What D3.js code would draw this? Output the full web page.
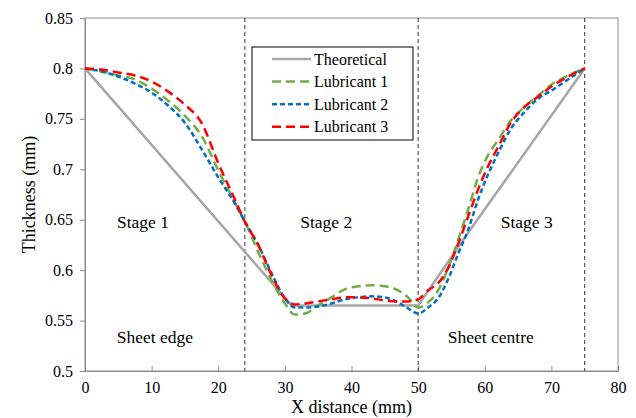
<!DOCTYPE html>
<html>
<head>
<meta charset="utf-8">
<script src="https://cdn.jsdelivr.net/npm/d3@7"></script>
<style>
  body { margin: 0; background: #fff; }
  svg text { font-family: "Liberation Serif", "Times New Roman", "DejaVu Serif", serif; fill: #000; }
</style>
</head>
<body>
<script>
const w = 636
const h = 418
const margin = { top: 18, right: 18, bottom: 47, left: 85 }
const serifFont = '"Liberation Serif", "Times New Roman", "DejaVu Serif", serif'

// data
const xTicks = [0, 10, 20, 30, 40, 50, 60, 70, 80]
const yTicks = [0.5, 0.55, 0.6, 0.65, 0.7, 0.75, 0.8, 0.85]
const stageLines = [24, 50, 75]

const theoX = [0, 31, 50, 57.5, 75]
const theoY = [0.8, 0.565, 0.565, 0.637, 0.8]

const lubX = [0, 2.5, 5, 7.5, 10, 12.5, 15, 17.5, 20, 22.5, 24, 26, 28, 30, 31.5, 33, 35, 37, 39, 41,
    43, 45, 47, 48.5, 50, 51.5, 53, 54.5, 56, 57.5, 59, 60.5, 62, 64, 66, 68, 70, 72.5, 75]
const lub1 = [0.800, 0.797, 0.793, 0.789, 0.780, 0.768, 0.753, 0.733, 0.699, 0.667, 0.648, 0.618, 0.590,
    0.567, 0.556, 0.557, 0.565, 0.573, 0.581, 0.584, 0.585, 0.584, 0.580, 0.573, 0.563, 0.568, 0.580,
    0.602, 0.630, 0.660, 0.692, 0.714, 0.729, 0.749, 0.762, 0.773, 0.784, 0.793, 0.800]
const lub2 = [0.800, 0.797, 0.792, 0.785, 0.776, 0.763, 0.746, 0.720, 0.692, 0.666, 0.648, 0.625, 0.597,
    0.572, 0.563, 0.563, 0.564, 0.567, 0.571, 0.573, 0.574, 0.573, 0.568, 0.562, 0.557, 0.563, 0.572,
    0.591, 0.616, 0.640, 0.670, 0.695, 0.716, 0.741, 0.757, 0.770, 0.778, 0.789, 0.800]
const lub3 = [0.800, 0.799, 0.796, 0.793, 0.787, 0.777, 0.764, 0.746, 0.706, 0.670, 0.648, 0.625, 0.595,
    0.572, 0.566, 0.567, 0.569, 0.571, 0.573, 0.573, 0.572, 0.570, 0.569, 0.569, 0.571, 0.580, 0.587,
    0.602, 0.626, 0.653, 0.680, 0.703, 0.722, 0.747, 0.762, 0.772, 0.782, 0.792, 0.800]

const seriesNames = ['Theoretical', 'Lubricant 1', 'Lubricant 2', 'Lubricant 3']
const seriesColors = ['#a6a6a6', '#70ad47', '#0070c0', '#ff0000']
const seriesDash = [null, '9,5', '5,3', '9,5']

const stageLabels = [
    { x: 8.7, y: 0.642, t: 'Stage 1' },
    { x: 36.2, y: 0.642, t: 'Stage 2' },
    { x: 66.3, y: 0.642, t: 'Stage 3' },
    { x: 10.5, y: 0.528, t: 'Sheet edge' },
    { x: 60.9, y: 0.528, t: 'Sheet centre' }
]

const xScale = d3.scaleLinear().domain([0, 80]).range([margin.left, w - margin.right])
const yScale = d3.scaleLinear().domain([0.5, 0.85]).range([h - margin.bottom, margin.top])

const svg = d3.select('body').append('svg')
    .attr('width', w)
    .attr('height', h)
    .attr('font-family', serifFont)

// frame
svg.append('rect')
    .attr('x', margin.left)
    .attr('y', margin.top)
    .attr('width', w - margin.left - margin.right)
    .attr('height', h - margin.top - margin.bottom)
    .attr('fill', 'none')
    .attr('stroke', '#8c8c8c')
    .attr('stroke-width', 1)

const xAxis = svg.append('g')
    .attr('transform', `translate(0,${h - margin.bottom})`)
    .call(d3.axisBottom(xScale).tickValues(xTicks).tickSizeInner(-5).tickSizeOuter(0).tickPadding(11))
const yAxis = svg.append('g')
    .attr('transform', `translate(${margin.left},0)`)
    .call(d3.axisLeft(yScale).tickValues(yTicks).tickSize(5).tickFormat(d3.format('')).tickPadding(7))

svg.selectAll('g').attr('font-family', serifFont).attr('font-size', 16)
svg.selectAll('.domain').attr('stroke', '#8c8c8c')
svg.selectAll('.tick line').attr('stroke', '#8c8c8c')

// stage dividers
svg.selectAll('line.stage')
    .data(stageLines)
    .enter()
    .append('line')
    .attr('class', 'stage')
    .attr('x1', d => xScale(d))
    .attr('x2', d => xScale(d))
    .attr('y1', yScale(0.85))
    .attr('y2', yScale(0.5))
    .attr('stroke', '#333')
    .attr('stroke-width', 1)
    .attr('stroke-dasharray', '4,3')

const lineFun = d3.line()
    .x(d => xScale(d[0]))
    .y(d => yScale(d[1]))
    .curve(d3.curveMonotoneX)

const series = [
    d3.zip(theoX, theoY),
    d3.zip(lubX, lub1),
    d3.zip(lubX, lub2),
    d3.zip(lubX, lub3)
]

series.forEach(function (pts, i) {
    svg.append('path')
        .attr('d', i === 0 ? d3.line().x(d => xScale(d[0])).y(d => yScale(d[1]))(pts) : lineFun(pts))
        .attr('fill', 'none')
        .attr('stroke', seriesColors[i])
        .attr('stroke-width', 2.5)
        .attr('stroke-dasharray', seriesDash[i])
})

// stage texts
svg.selectAll('text.stage')
    .data(stageLabels)
    .enter()
    .append('text')
    .attr('class', 'stage')
    .attr('x', d => xScale(d.x))
    .attr('y', d => yScale(d.y))
    .attr('text-anchor', 'middle')
    .style('font-size', '17.5px')
    .text(d => d.t)

// legend
const legend = svg.append('g').attr('transform', 'translate(252,47)')
legend.append('rect')
    .attr('width', 161)
    .attr('height', 93)
    .attr('fill', '#fff')
    .attr('stroke', '#000')
    .attr('stroke-width', 1)

seriesNames.forEach(function (name, i) {
    const yy = 12 + i * 22.6
    legend.append('line')
        .attr('x1', 20).attr('x2', 59)
        .attr('y1', yy).attr('y2', yy)
        .attr('stroke', seriesColors[i])
        .attr('stroke-width', 2.5)
        .attr('stroke-dasharray', seriesDash[i])
    legend.append('text')
        .attr('x', 62)
        .attr('y', yy + 5.5)
        .style('font-size', '16px')
        .text(name)
})

// axis titles
svg.append('text')
    .attr('x', (margin.left + w - margin.right) / 2)
    .attr('y', 413)
    .attr('text-anchor', 'middle')
    .style('font-size', '18px')
    .text('X distance (mm)')

svg.append('text')
    .attr('transform', `translate(35,${(margin.top + h - margin.bottom) / 2}) rotate(-90)`)
    .attr('text-anchor', 'middle')
    .style('font-size', '18px')
    .text('Thickness (mm)')
</script>
</body>
</html>
